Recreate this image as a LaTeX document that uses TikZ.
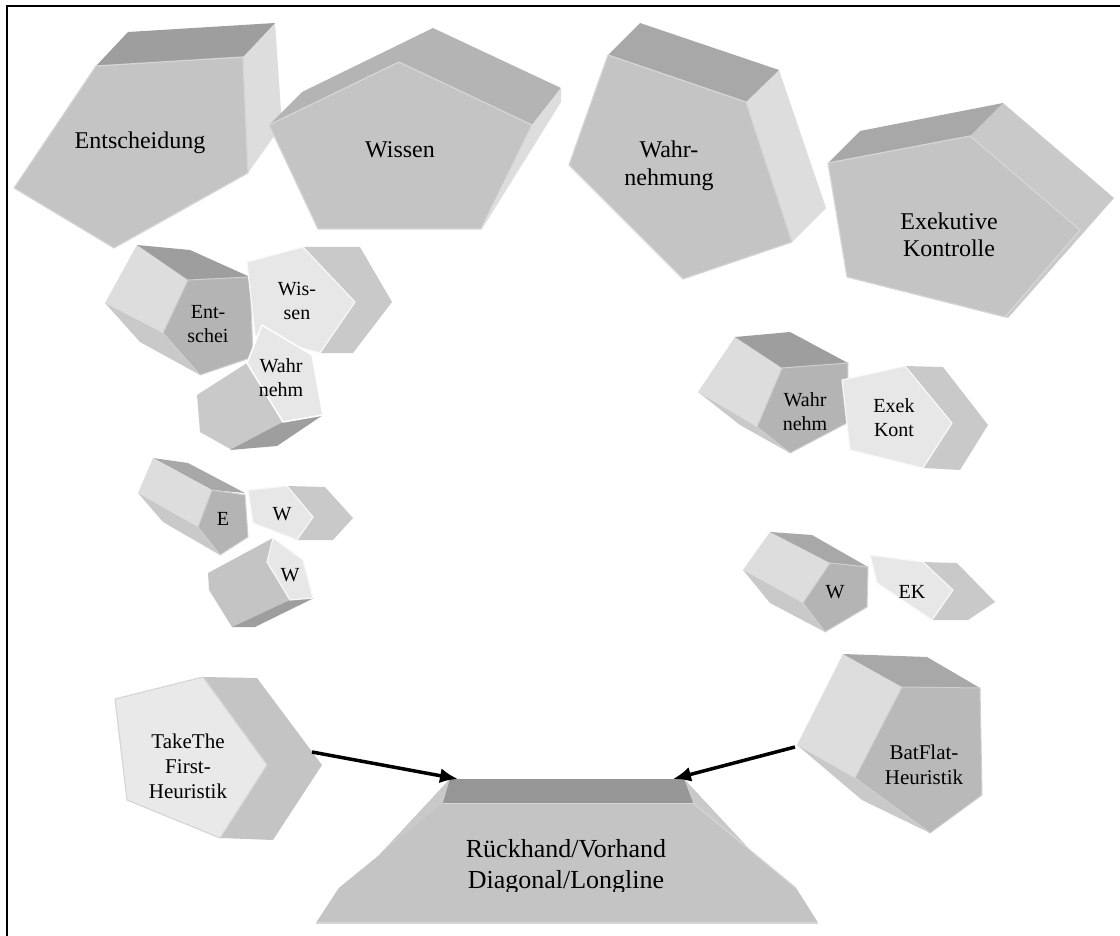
\documentclass[tikz,border=0pt]{standalone}
\usepackage{fontspec}
\setmainfont{Liberation Serif}
\usetikzlibrary{arrows.meta}
\newcommand{\fbig}{\fontsize{24}{27.5}\selectfont}
\newcommand{\fmid}{\fontsize{21}{25}\selectfont}
\newcommand{\fsml}{\fontsize{20}{24}\selectfont}
\newcommand{\fbot}{\fontsize{26}{31}\selectfont}
\definecolor{cdark}{HTML}{9E9E9E}
\definecolor{cdarkb}{HTML}{A8A8A8}
\definecolor{ctopw}{HTML}{B4B4B4}
\definecolor{cmid}{HTML}{C4C4C4}
\definecolor{cmidb}{HTML}{C9C9C9}
\definecolor{cfrontd}{HTML}{B4B4B4}
\definecolor{clight}{HTML}{DDDDDD}
\definecolor{cpale}{HTML}{E7E7E7}
\definecolor{cedge}{HTML}{D6D6D6}
\tikzset{
  topface/.style={fill=cdark},
  topfaceb/.style={fill=cdarkb},
  sideface/.style={fill=clight},
  midface/.style={fill=cmidb},
  frontface/.style={fill=cmid, draw=cedge, line width=1.2pt, line join=round},
  frontdark/.style={fill=cfrontd, draw=cedge!80!cfrontd, line width=1pt, line join=round},
  frontpale/.style={fill=cpale, draw=white!70!cpale, line width=1.2pt, line join=round},
  label/.style={align=center, inner sep=0pt, text=black},
  conn/.style={line width=3.5pt, -{Latex[length=18pt,width=15pt]}},
  frame/.style={line width=2pt, draw=black}
}
\begin{document}
\begin{tikzpicture}[x=1pt,y=-1pt]
\useasboundingbox (0,0) rectangle (1120,936);
\draw[frame] (6.5,936) -- (6.5,6.5) -- (1120,6.5);

% ---------- Entscheidung (large) ----------
\fill[sideface] (243,57) -- (275,23) -- (282,125) -- (248,173) -- cycle;
\fill[topface] (96,66) -- (128,32) -- (275,23) -- (243,57) -- cycle;
\filldraw[frontface] (96,66) -- (243,57) -- (248,173) -- (114,248) -- (14,188) -- cycle;
\node[label, font=\fbig] (entscheidung) at (140,143) {Entscheidung};

% ---------- Wissen (large) ----------
\fill[fill=ctopw] (269,125) -- (302,92) -- (433,28) -- (561,88) -- (532,125) -- (399,62) -- cycle;
\fill[sideface] (532,125) -- (561,88) -- (561,102) -- (482,229) -- cycle;
\filldraw[frontface] (269,125) -- (399,62) -- (532,125) -- (481,229) -- (318,229) -- cycle;
\node[label, font=\fbig] (wissen) at (400,150) {Wissen};

% ---------- Wahrnehmung (large) ----------
\fill[sideface] (746,102) -- (779,70) -- (826,208) -- (792,242) -- cycle;
\fill[fill=cdarkb] (608,55) -- (640,23) -- (779,70) -- (746,102) -- cycle;
\filldraw[frontface] (608,55) -- (746,102) -- (792,242) -- (683,279) -- (569,165) -- cycle;
\node[label, font=\fbig] (wahrnehmung) at (669,166) {Wahr-\\nehmung};

% ---------- Exekutive Kontrolle (large) ----------
\fill[midface] (970,136) -- (1003,103) -- (1114,198) -- (1008,318) -- (1005,317) -- (1080,230) -- cycle;
\fill[fill=cdarkb] (828,163) -- (860,131) -- (1003,103) -- (970,136) -- cycle;
\filldraw[frontface] (828,163) -- (970,136) -- (1080,230) -- (1005,317) -- (847,277) -- cycle;
\node[label, font=\fbig] (exekutive) at (949,235) {Exekutive\\Kontrolle};

% ---------- Ent-schei (small) ----------
\fill[sideface] (137,245) -- (188,280) -- (163,333) -- (105,303) -- cycle;
\fill[topface] (137,245) -- (190,250) -- (250,277) -- (188,280) -- cycle;
\fill[midface] (105,303) -- (163,333) -- (200,375) -- (140,342) -- cycle;
\filldraw[frontdark] (188,280) -- (250,277) -- (253,357) -- (200,375) -- (163,333) -- cycle;
\node[label, font=\fsml] (entschei) at (208,324) {Ent-\\schei};

% ---------- Wis-sen (small) ----------
\fill[midface] (303,247) -- (360,247) -- (392,302) -- (353,353) -- (320,353) -- (355,302) -- cycle;
\filldraw[frontpale] (247,262) -- (303,247) -- (355,302) -- (320,353) -- (255,335) -- cycle;
\node[label, font=\fsml] (wissensm) at (297,301) {Wis-\\sen};

% ---------- Wahr nehm (small, left) ----------
\fill[midface] (197,395) -- (247,363) -- (283,422) -- (232,450) -- (200,432) -- cycle;
\fill[fill=cdark] (230,450) -- (283,422) -- (323,415) -- (277,446) -- cycle;
\filldraw[fill=cpale, draw=white, line width=1.5pt, line join=round] (262,325) -- (312,355) -- (323,415) -- (283,422) -- (247,363) -- cycle;
\node[label, font=\fsml] (wahrnehmsm) at (281,378) {Wahr\\nehm};

% ---------- E (tiny) ----------
\fill[topfaceb] (153,458) -- (188,463) -- (245,493) -- (212,490) -- cycle;
\fill[sideface] (153,458) -- (212,490) -- (198,527) -- (138,493) -- cycle;
\fill[midface] (138,493) -- (198,527) -- (220,555) -- (163,522) -- cycle;
\filldraw[frontdark] (212,490) -- (245,495) -- (248,537) -- (220,555) -- (198,527) -- cycle;
\node[label, font=\fsml] (etiny) at (223,519) {E};

% ---------- W (tiny, right) ----------
\fill[midface] (287,486) -- (325,487) -- (353,518) -- (333,540) -- (297,540) -- (313,517) -- cycle;
\filldraw[frontpale] (248,490) -- (287,486) -- (313,517) -- (297,540) -- (253,523) -- cycle;
\node[label, font=\fsml] (wtinya) at (282,514) {W};

% ---------- W (tiny, lower) ----------
\fill[fill=cmid] (208,573) -- (273,538) -- (267,562) -- (290,600) -- (232,627) -- (209,590) -- cycle;
\fill[fill=cdark] (232,627) -- (290,600) -- (314,598) -- (255,627) -- cycle;
\filldraw[frontpale] (273,538) -- (303,560) -- (313,598) -- (290,600) -- (267,562) -- cycle;
\node[label, font=\fsml] (wtinyb) at (290,575) {W};

% ---------- Wahr nehm (small, right) ----------
\fill[sideface] (735,337) -- (782,368) -- (757,427) -- (698,392) -- cycle;
\fill[topface] (735,337) -- (790,332) -- (848,363) -- (782,368) -- cycle;
\fill[midface] (698,392) -- (757,427) -- (790,453) -- (740,425) -- cycle;
\filldraw[frontdark] (782,368) -- (848,363) -- (847,423) -- (790,453) -- (757,427) -- cycle;
\node[label, font=\fsml] (wahrnehmr) at (805,412) {Wahr\\nehm};

% ---------- Exek Kont (small) ----------
\fill[midface] (905,366) -- (943,367) -- (988,425) -- (960,470) -- (923,468) -- (952,423) -- cycle;
\filldraw[frontpale] (842,380) -- (905,366) -- (952,423) -- (923,468) -- (850,450) -- cycle;
\node[label, font=\fsml] (exekkont) at (894,418) {Exek\\Kont};

% ---------- W (tiny, right side) ----------
\fill[sideface] (770,532) -- (830,563) -- (803,603) -- (743,570) -- cycle;
\fill[topfaceb] (770,532) -- (812,535) -- (868,567) -- (830,563) -- cycle;
\fill[midface] (743,570) -- (803,603) -- (825,632) -- (770,603) -- cycle;
\filldraw[frontdark] (830,563) -- (868,567) -- (867,607) -- (825,632) -- (803,603) -- cycle;
\node[label, font=\fsml] (wtinyc) at (835,592) {W};

% ---------- EK (tiny) ----------
\fill[midface] (923,562) -- (957,563) -- (995,602) -- (968,620) -- (932,620) -- (953,590) -- cycle;
\filldraw[frontpale] (870,555) -- (923,562) -- (953,590) -- (932,620) -- (877,583) -- cycle;
\node[label, font=\fsml] (ek) at (912,592) {EK};

% ---------- TakeThe First-Heuristik ----------
\fill[fill=cmid] (203,677) -- (257,678) -- (322,765) -- (273,840) -- (220,838) -- (267,765) -- cycle;
\filldraw[fill=cpale!90!white, draw=cedge, line width=1.2pt, line join=round] (115,699) -- (203,677) -- (267,765) -- (220,838) -- (127,800) -- cycle;
\node[label, font=\fmid] (takethe) at (188,766) {TakeThe\\First-\\Heuristik};
\coordinate (takethe-out) at (312,752);

% ---------- BatFlat-Heuristik ----------
\fill[sideface] (843,654) -- (902,687) -- (855,778) -- (797,745) -- cycle;
\fill[fill=cdarkb] (843,654) -- (927,657) -- (980,688) -- (902,687) -- cycle;
\fill[midface] (797,745) -- (855,778) -- (930,833) -- (862,800) -- cycle;
\filldraw[fill=cfrontd!70!cmid, draw=cedge!80!cfrontd, line width=1pt, line join=round] (902,687) -- (980,688) -- (982,795) -- (930,833) -- (855,778) -- cycle;
\node[label, font=\fmid] (batflat) at (924,765) {BatFlat-\\Heuristik};
\coordinate (batflat-out) at (795,747);

% ---------- Rückhand/Vorhand (trapezoid) ----------
\fill[fill=cmid] (450,779) -- (684,779) -- (818,923) -- (316,923) -- cycle;
\fill[fill=cmidb] (450,779) -- (443,803) -- (339,888) -- (316,923) -- cycle;
\fill[fill=cmidb] (684,779) -- (693,803) -- (796,888) -- (818,923) -- cycle;
\fill[fill=cmid] (443,803) -- (693,803) -- (796,888) -- (818,923) -- (316,923) -- (339,888) -- cycle;
\draw[cedge, line width=1.2pt] (693,803) -- (796,888);
\draw[cedge, line width=1.2pt] (316,923) -- (818,923);
\fill[fill=cdark!95!black] (450,779) -- (684,779) -- (693,803) -- (443,803) -- cycle;
\draw[cedge, line width=1pt] (443,803) -- (693,803);
\coordinate (rueck-left) at (458,779);
\coordinate (rueck-right) at (673,779);
\begin{scope}
\clip (300,800) rectangle (830,891);
\node[label, font=\fbot] (rueckhand) at (566,867) {Rückhand/Vorhand\\Diagonal/Longline};
\end{scope}

% ---------- connectors ----------
\draw[conn] (takethe-out) -- (rueck-left);
\draw[conn] (batflat-out) -- (rueck-right);
\end{tikzpicture}
\end{document}
